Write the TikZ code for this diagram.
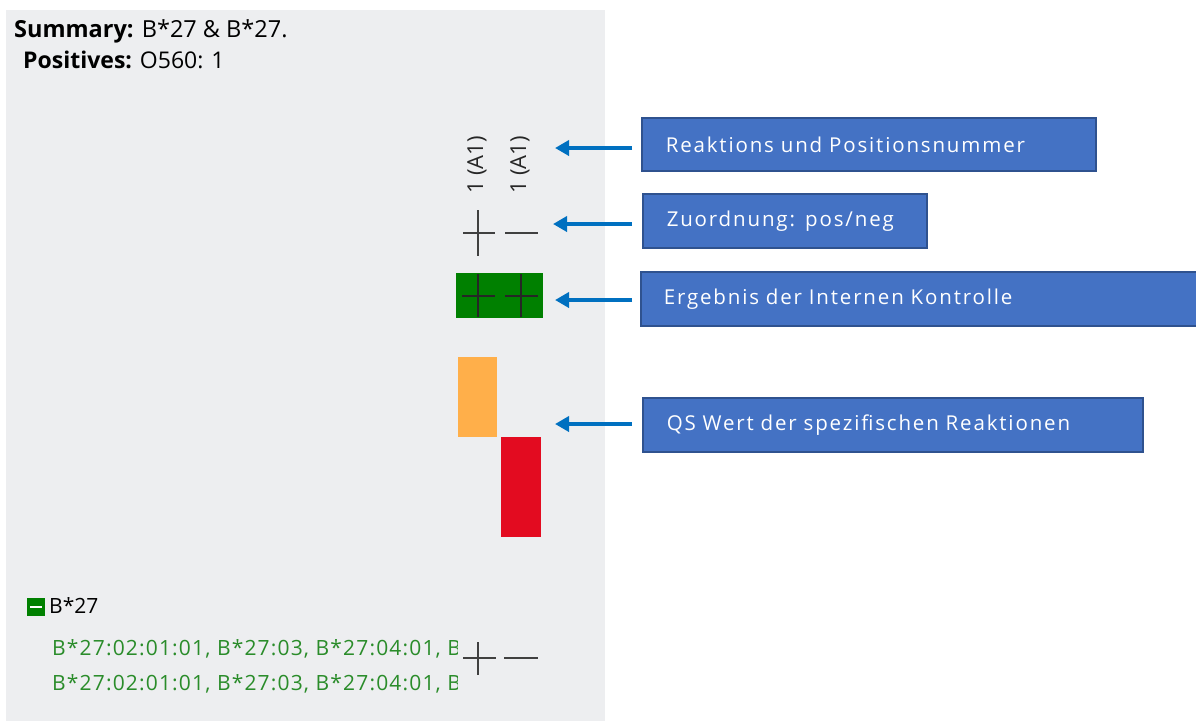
\documentclass[tikz,border=0pt]{standalone}
\usepackage{fontspec}
\setmainfont{Open Sans}
\newfontfamily\calloutfont[LetterSpace=9,WordSpace=1.4]{Open Sans}
\newfontfamily\listfont[LetterSpace=5.5]{Open Sans}
\usetikzlibrary{arrows.meta}
\definecolor{panel}{HTML}{EDEEF0}
\definecolor{boxfill}{HTML}{4472C4}
\definecolor{boxline}{HTML}{2F528F}
\definecolor{arrowblue}{HTML}{0070C0}
\definecolor{okgreen}{HTML}{008000}
\definecolor{txtgreen}{HTML}{2A8C2A}
\definecolor{qsorange}{HTML}{FFAF4A}
\definecolor{qsred}{HTML}{E30B20}
\tikzset{
  callout/.style={draw=boxline, line width=1.5pt, fill=boxfill, text=white, font=\calloutfont\fontsize{20.5}{24}\selectfont, anchor=west, inner sep=0pt, align=left},
  pointer/.style={arrowblue, line width=4pt, -{Triangle[length=14pt,width=15pt]}},
  signline/.style={line width=1.6pt, draw=black!75},
  darkline/.style={line width=1.8pt, draw=black!85},
  lbl/.style={font=\fontsize{22}{26}\selectfont, text=black!85, inner sep=0pt},
  paneltext/.style={anchor=base west, inner sep=0pt, font=\fontsize{21}{25}\selectfont},
}
\begin{document}
\begin{tikzpicture}[x=1pt,y=-1pt]
\useasboundingbox (0,0) rectangle (1196,721);
\fill[white] (0,0) rectangle (1196,721);
\fill[panel] (6,10) rectangle (605,721);
% header text
\node[paneltext, font=\fontsize{23.5}{27}\selectfont] (sum) at (14,37) {\textbf{Summary:} B*27 \& B*27.};
\node[paneltext, font=\fontsize{23}{27}\selectfont] (pos) at (23,68) {\textbf{Positives:} O560: 1};
% column labels
\node[lbl, rotate=90, anchor=center] (c1) at (477,165) {1 (A1)};
\node[lbl, rotate=90, anchor=center] (c2) at (520,165) {1 (A1)};
% pos/neg signs
\draw[signline] (463,233) -- (495,233);
\draw[signline] (478,210) -- (478,256);
\draw[signline] (505,233) -- (538,233);
% internal control
\fill[okgreen] (456,273) rectangle (543,318);
\draw[darkline] (462,296) -- (495,296);
\draw[darkline] (478,274) -- (478,317);
\draw[darkline] (505,296) -- (538,296);
\draw[darkline] (521,274) -- (521,317);
% QS bars
\fill[qsorange] (458,357) rectangle (497,437);
\fill[qsred] (501,437) rectangle (541,537);
% callouts
\node[callout, minimum width=454pt, minimum height=53pt, text width=454pt] (b1) at (641,144.5) {\hspace*{24pt}Reaktions und Positionsnummer};
\node[callout, minimum width=284pt, minimum height=54pt, text width=284pt] (b2) at (642,221) {\hspace*{24pt}Zuordnung: pos/neg};
\node[callout, minimum width=560pt, minimum height=54pt, text width=560pt] (b3) at (640,299) {\hspace*{23pt}Ergebnis der Internen Kontrolle};
\node[callout, minimum width=500pt, minimum height=54pt, text width=500pt] (b4) at (642,425) {\hspace*{24pt}QS Wert der spezifischen Reaktionen};
% arrows
\coordinate (t1) at (555,148);
\coordinate (t2) at (553,224);
\coordinate (t3) at (555,300);
\coordinate (t4) at (555,424);
\draw[pointer] (b1.west |- t1) ++(-9,0) -- (t1);
\draw[pointer] (b2.west |- t2) ++(-10,0) -- (t2);
\draw[pointer] (b3.west |- t3) ++(-8,0) -- (t3);
\draw[pointer] (b4.west |- t4) ++(-10,0) -- (t4);
% bottom section
\fill[okgreen] (27,598) rectangle (45,616);
\draw[white, line width=1.8pt] (30,607) -- (42,607);
\node[paneltext] (allele) at (49,613) {B*27};
\begin{scope}
\clip (40,630) rectangle (457,700);
\node[paneltext, font=\listfont\fontsize{21}{25}\selectfont, text=txtgreen] (l1) at (52,655) {B*27:02:01:01, B*27:03, B*27:04:01, B*27:05};
\node[paneltext, font=\listfont\fontsize{21}{25}\selectfont, text=txtgreen] (l2) at (52,690) {B*27:02:01:01, B*27:03, B*27:04:01, B*27:05};
\end{scope}
\draw[signline] (463,658) -- (496,658);
\draw[signline] (478,642) -- (478,675);
\draw[signline] (504,658) -- (538,658);
\end{tikzpicture}
\end{document}
